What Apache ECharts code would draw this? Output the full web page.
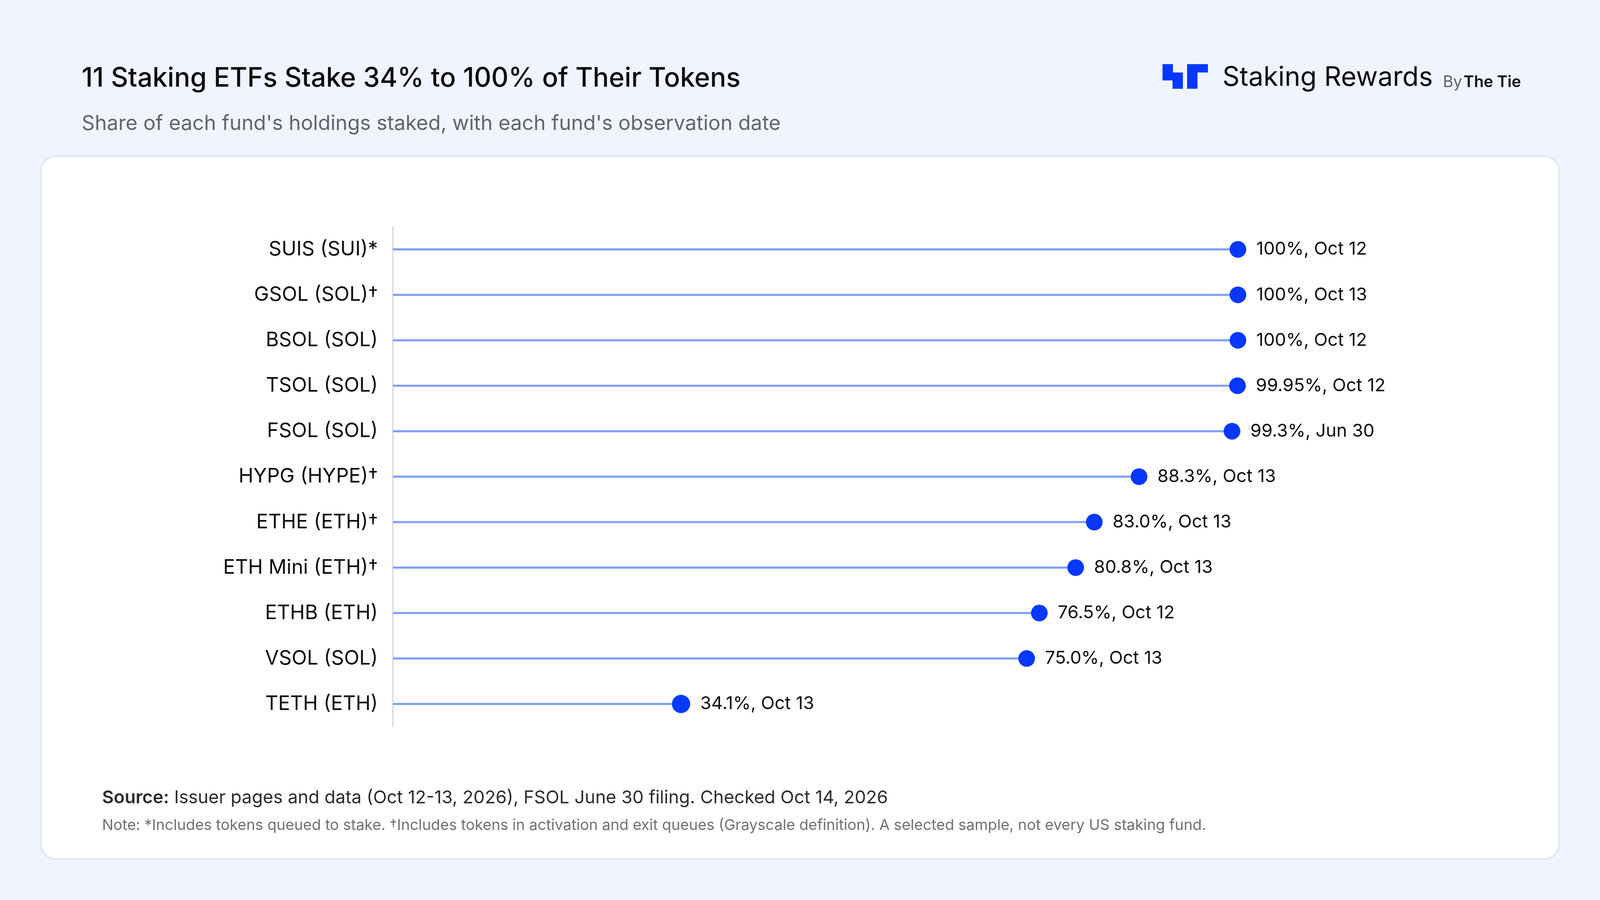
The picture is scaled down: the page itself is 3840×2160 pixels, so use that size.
<!DOCTYPE html>
<html>
<head>
<meta charset="utf-8">
<title>Staking ETFs</title>
<script src="https://cdn.jsdelivr.net/npm/echarts@6/dist/echarts.min.js"></script>
<style>
  html, body { margin: 0; padding: 0; background: #F0F4FE; }
  #main { width: 3840px; height: 2160px; }
</style>
</head>
<body>
<div id="main"></div>
<script>
// funds, top to bottom
var funds = ['SUIS (SUI)*', 'GSOL (SOL)\u2020', 'BSOL (SOL)', 'TSOL (SOL)', 'FSOL (SOL)', 'HYPG (HYPE)\u2020',
     'ETHE (ETH)\u2020', 'ETH Mini (ETH)\u2020', 'ETHB (ETH)', 'VSOL (SOL)', 'TETH (ETH)'];
// share staked, %
var staked = [100, 100, 100, 99.95, 99.3, 88.3, 83.0, 80.8, 76.5, 75.0, 34.1];
var stakedText = ['100%', '100%', '100%', '99.95%', '99.3%', '88.3%', '83.0%', '80.8%', '76.5%', '75.0%', '34.1%'];
// observation dates
var dates = ['Oct 12', 'Oct 13', 'Oct 12', 'Oct 12', 'Jun 30', 'Oct 13', 'Oct 13', 'Oct 13', 'Oct 12', 'Oct 13', 'Oct 13'];

var FONT = 'Inter, "Noto Sans", sans-serif';

var myChart = echarts.init(document.getElementById('main'));

var option = {
     backgroundColor: '#F0F4FE',
     textStyle: { fontFamily: FONT },
     graphic: [
          // card
          {
               type: 'rect',
               shape: { x: 98, y: 375, width: 3644, height: 1687, r: 36 },
               style: { fill: '#ffffff', stroke: '#E3E7F3', lineWidth: 4 },
               z: -10
          },
          // title + subtitle
          {
               type: 'text', left: 196, top: 157,
               style: { text: '11 Staking ETFs Stake 34% to 100% of Their Tokens', fill: '#0B0B0F', font: '500 64px ' + FONT }
          },
          {
               type: 'text', left: 196, top: 273,
               style: { text: "Share of each fund's holdings staked, with each fund's observation date", fill: '#62646B', font: '400 49px ' + FONT }
          },
          // logo blocks
          { type: 'rect', shape: { x: 2790, y: 154, width: 25, height: 39 }, style: { fill: '#0537FF' } },
          { type: 'rect', shape: { x: 2814, y: 174, width: 25, height: 39 }, style: { fill: '#0537FF' } },
          { type: 'rect', shape: { x: 2849, y: 154, width: 50, height: 20 }, style: { fill: '#0537FF' } },
          { type: 'rect', shape: { x: 2849, y: 173, width: 25, height: 40 }, style: { fill: '#0537FF' } },
          {
               type: 'text', left: 2934, top: 155,
               style: { text: 'Staking Rewards', fill: '#0B0B0F', font: '400 64px ' + FONT }
          },
          {
               type: 'text', left: 3463, top: 179,
               style: {
                    text: '{by|By} {tie|The Tie}',
                    rich: {
                         by: { fill: '#5F6168', font: '400 38px ' + FONT },
                         tie: { fill: '#0B0B0F', font: '600 38px ' + FONT }
                    }
               }
          },
          // footer
          {
               type: 'text', left: 245, top: 1894,
               style: {
                    text: '{b|Source:}{r| Issuer pages and data (Oct 12-13, 2026), FSOL June 30 filing. Checked Oct 14, 2026}',
                    rich: {
                         b: { fill: '#2A2B30', font: '600 43px ' + FONT },
                         r: { fill: '#2A2B30', font: '400 43px ' + FONT }
                    }
               }
          },
          {
               type: 'text', left: 245, top: 1963,
               style: {
                    text: 'Note: *Includes tokens queued to stake. \u2020Includes tokens in activation and exit queues (Grayscale definition). A selected sample, not every US staking fund.',
                    fill: '#6E7077', font: '400 36px ' + FONT
               }
          }
     ],
     grid: {
          left: 943,
          top: 544,
          width: 2028,
          height: 1200,
          containLabel: false
     },
     xAxis: {
          type: 'value',
          min: 0,
          max: 100,
          show: false
     },
     yAxis: {
          type: 'category',
          inverse: true,
          data: funds,
          axisTick: { show: false },
          axisLine: { show: true, lineStyle: { color: '#C4C8D0', width: 2 } },
          axisLabel: {
               color: '#0B0B0F',
               fontSize: 48,
               fontFamily: FONT,
               margin: 36
          },
          splitLine: { show: false }
     },
     series: [
          {
               type: 'bar',
               data: staked,
               barWidth: 5,
               itemStyle: { color: '#809EFF' },
               silent: true,
               z: 2
          },
          {
               type: 'scatter',
               data: staked,
               symbol: 'circle',
               symbolSize: 40,
               itemStyle: { color: '#0537FF', opacity: 1 },
               label: {
                    show: true,
                    position: 'right',
                    distance: 24,
                    color: '#0B0B0F',
                    fontSize: 43,
                    fontFamily: FONT,
                    formatter: function (p) {
                         return stakedText[p.dataIndex] + ', ' + dates[p.dataIndex];
                    }
               },
               z: 3
          }
     ]
};

myChart.setOption(option);
</script>
</body>
</html>
